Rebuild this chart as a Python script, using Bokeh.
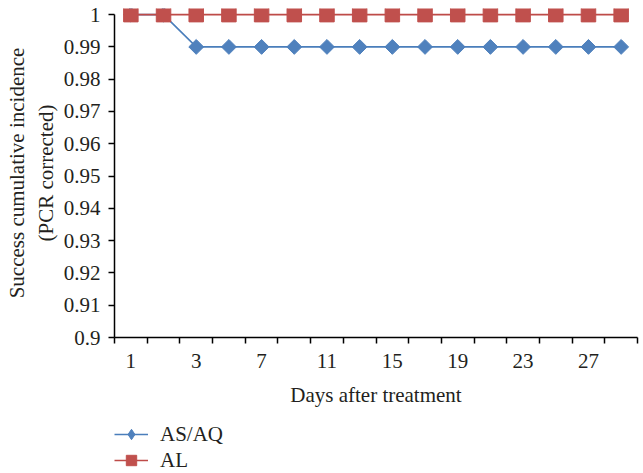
import numpy as np
from bokeh.plotting import figure
from bokeh.layouts import column
from bokeh.models import (Range1d, FixedTicker, CustomJSTickFormatter, Legend, LegendItem)
from bokeh.embed import file_html
from bokeh.resources import INLINE

# ---- data ----
days = [1, 2, 3, 5, 7, 9, 11, 13, 15, 17, 19, 21, 23, 25, 27, 29]
asaq = [1.0, 1.0, 0.99, 0.99, 0.99, 0.99, 0.99, 0.99, 0.99, 0.99, 0.99, 0.99, 0.99, 0.99, 0.99, 0.99]
al = [1.0] * 16
y_ticks = [0.9, 0.91, 0.92, 0.93, 0.94, 0.95, 0.96, 0.97, 0.98, 0.99, 1.0]
series_names = ["AS/AQ", "AL"]

FONT = "Liberation Serif"
TXT = "#231f20"
FS = "21px"

blue_line = "#4A7EBB"
blue_fill = "#4F81BD"
red_line = "#BE4B48"
red_fill = "#C0504D"

xpos = list(range(len(days)))

# ---------------- main chart ----------------
p = figure(width=643, height=415, output_backend="svg", toolbar_location=None,
           x_range=Range1d(-0.5, len(days) - 0.5),
           y_range=Range1d(y_ticks[0], y_ticks[-1] + 0.0019),
           min_border_left=114, min_border_right=6, min_border_top=8,
           min_border_bottom=78)
p.outline_line_color = None
p.xgrid.grid_line_color = None
p.ygrid.grid_line_color = None
p.background_fill_color = "white"
p.border_fill_color = "white"

p.line(xpos, asaq, line_color=blue_line, line_width=1.6)
p.scatter(xpos, asaq, marker="square", angle=np.pi / 4, size=10.5,
          fill_color=blue_fill, line_color=blue_fill)
p.line(xpos, al, line_color=red_line, line_width=1.6)
p.scatter(xpos, al, marker="square", size=14.5,
          fill_color=red_fill, line_color=red_fill)

# x axis
label_idx = list(range(0, len(days), 2))
xax = p.xaxis[0]
xax.ticker = FixedTicker(ticks=label_idx,
                         minor_ticks=[i - 0.5 for i in range(len(days) + 1)])
xax.major_label_overrides = {i: str(days[i]) for i in label_idx}
xax.major_tick_out = 0
xax.major_tick_in = 0
xax.minor_tick_out = 6
xax.minor_tick_in = 0
xax.minor_tick_line_color = "black"
xax.minor_tick_line_width = 1.5
xax.axis_line_color = "black"
xax.axis_line_width = 1.5
xax.axis_label = "Days after treatment"
xax.major_label_standoff = 10
xax.axis_label_standoff = 12

# y axis
yax = p.yaxis[0]
yax.ticker = FixedTicker(ticks=y_ticks, minor_ticks=[])
yax.formatter = CustomJSTickFormatter(code="return String(parseFloat(tick.toFixed(2)));")
yax.bounds = (y_ticks[0], y_ticks[-1])
yax.major_tick_out = 6
yax.major_tick_in = 0
yax.major_tick_line_color = "black"
yax.major_tick_line_width = 1.5
yax.axis_line_color = "black"
yax.axis_line_width = 1.5
yax.major_label_standoff = 8
yax.axis_label = "Success cumulative incidence\n(PCR corrected)"
yax.axis_label_standoff = 3

for ax in (xax, yax):
    ax.major_label_text_font = FONT
    ax.major_label_text_font_size = FS
    ax.major_label_text_color = TXT
    ax.axis_label_text_font = FONT
    ax.axis_label_text_font_size = FS
    ax.axis_label_text_font_style = "normal"
    ax.axis_label_text_color = TXT

# ---------------- legend strip ----------------
# the series are drawn here too, but outside this strip's visible range,
# so that only their legend symbols appear
q = figure(width=643, height=58, output_backend="svg", toolbar_location=None,
           x_range=Range1d(-100, -99), y_range=Range1d(-100, -99),
           min_border=0, x_axis_location=None, y_axis_location=None)
q.outline_line_color = None
q.xgrid.grid_line_color = None
q.ygrid.grid_line_color = None
q.border_fill_color = "white"
q.background_fill_color = "white"

g1l = q.line(xpos, asaq, line_color=blue_line, line_width=1.6)
g1m = q.scatter(xpos, asaq, marker="diamond", fill_color=blue_fill, line_color=blue_fill)
g2l = q.line(xpos, al, line_color=red_line, line_width=1.6)
g2m = q.scatter(xpos, al, marker="square", fill_color=red_fill, line_color=red_fill)

legend = Legend(items=[LegendItem(label=series_names[0], renderers=[g1l, g1m]),
                       LegendItem(label=series_names[1], renderers=[g2l, g2m])],
                location=(0, 0), orientation="vertical",
                glyph_width=34, glyph_height=26, label_height=24,
                label_standoff=12, spacing=-2, padding=0, margin=0,
                border_line_color=None, background_fill_alpha=0,
                label_text_font=FONT, label_text_font_size=FS,
                label_text_color=TXT)
q.add_layout(legend)

open("out.html", "w").write(file_html(column(p, q, spacing=0), INLINE))
